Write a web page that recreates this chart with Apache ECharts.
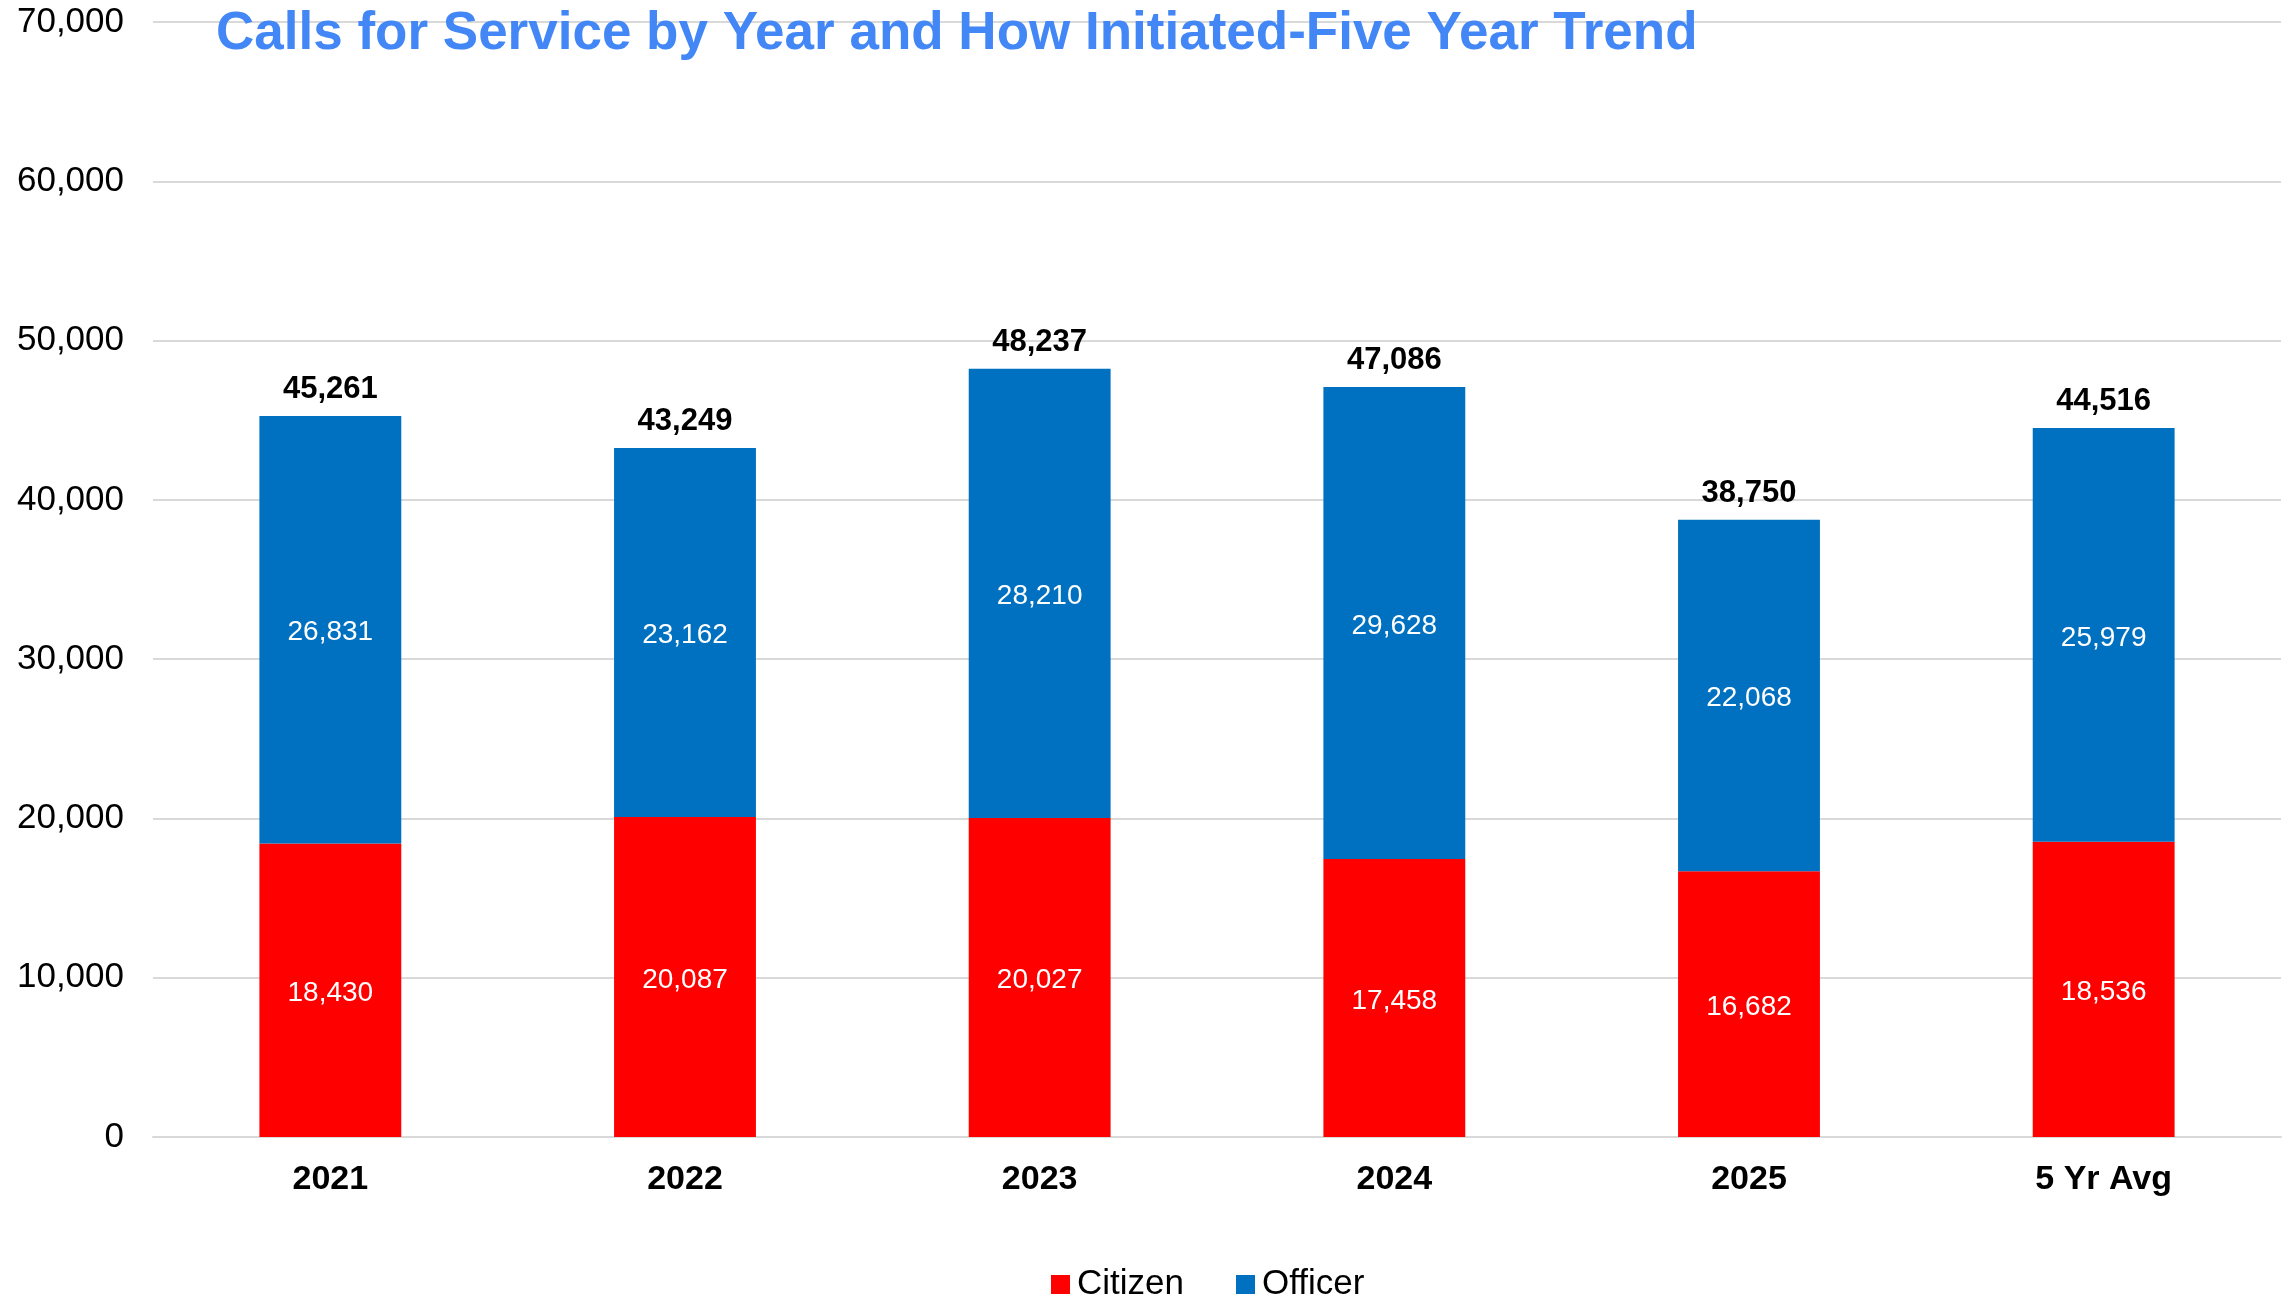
<!DOCTYPE html>
<html>
<head>
<meta charset="utf-8">
<script src="https://cdn.jsdelivr.net/npm/echarts@6/dist/echarts.min.js"></script>
<style>
  html, body { margin: 0; padding: 0; background: #fff; }
  #chart { width: 2285px; height: 1296px; }
</style>
</head>
<body>
<div id="chart"></div>
<script>
  const categories = ['2021', '2022', '2023', '2024', '2025', '5 Yr Avg'];
  const citizen = [18430, 20087, 20027, 17458, 16682, 18536];
  const officer = [26831, 23162, 28210, 29628, 22068, 25979];
  const totals = [45261, 43249, 48237, 47086, 38750, 44516];

  const font = '"Liberation Sans", Arial, sans-serif';
  const fmt = (v) => v.toLocaleString('en-US');

  const chart = echarts.init(document.getElementById('chart'));

  const option = {
    backgroundColor: '#fff',
    animation: false,
    textStyle: { fontFamily: font },
    title: {
      text: 'Calls for Service by Year and How Initiated-Five Year Trend',
      left: 211,
      top: 3,
      textStyle: {
        fontFamily: font,
        fontSize: 53,
        fontWeight: 'bold',
        color: '#4287f5',
      },
    },
    legend: {
      data: ['Citizen', 'Officer'],
      left: 1046,
      top: 1262,
      itemWidth: 19,
      itemHeight: 19,
      itemGap: 52,
      icon: 'rect',
      textStyle: { fontFamily: font, fontSize: 35, color: '#000', padding: [0, 0, 0, 2] },
    },
    grid: {
      left: 153,
      right: 4,
      top: 22,
      bottom: 159,
      containLabel: false,
    },
    xAxis: {
      type: 'category',
      data: categories,
      axisLine: { lineStyle: { color: '#d9d9d9', width: 2 } },
      axisTick: { show: false },
      axisLabel: {
        margin: 26,
        fontFamily: font,
        fontSize: 34,
        fontWeight: 'bold',
        color: '#000',
      },
    },
    yAxis: {
      type: 'value',
      min: 0,
      max: 70000,
      interval: 10000,
      axisLine: { show: false },
      axisTick: { show: false },
      splitLine: { lineStyle: { color: '#d9d9d9', width: 2 } },
      axisLabel: {
        margin: 29,
        fontFamily: font,
        fontSize: 35,
        color: '#000',
        formatter: (v) => fmt(v),
      },
    },
    series: [
      {
        name: 'Citizen',
        type: 'bar',
        stack: 'calls',
        barWidth: '40%',
        data: citizen,
        itemStyle: { color: '#ff0000' },
        label: {
          show: true,
          position: 'inside',
          offset: [0, 3],
          color: '#fff',
          fontFamily: font,
          fontSize: 28,
          formatter: (p) => fmt(p.value),
        },
      },
      {
        name: 'Officer',
        type: 'bar',
        stack: 'calls',
        data: officer,
        itemStyle: { color: '#0070c0' },
        label: {
          show: true,
          position: 'inside',
          offset: [0, 3],
          color: '#fff',
          fontFamily: font,
          fontSize: 28,
          formatter: (p) => fmt(p.value),
        },
      },
      {
        name: 'Total',
        type: 'bar',
        stack: 'calls',
        data: totals.map(() => 0),
        itemStyle: { color: 'transparent' },
        label: {
          show: true,
          position: 'top',
          distance: 11,
          color: '#000',
          fontFamily: font,
          fontSize: 31,
          fontWeight: 'bold',
          formatter: (p) => fmt(totals[p.dataIndex]),
        },
      },
    ],
  };

  chart.setOption(option);
  window.addEventListener('resize', chart.resize);
</script>
</body>
</html>
